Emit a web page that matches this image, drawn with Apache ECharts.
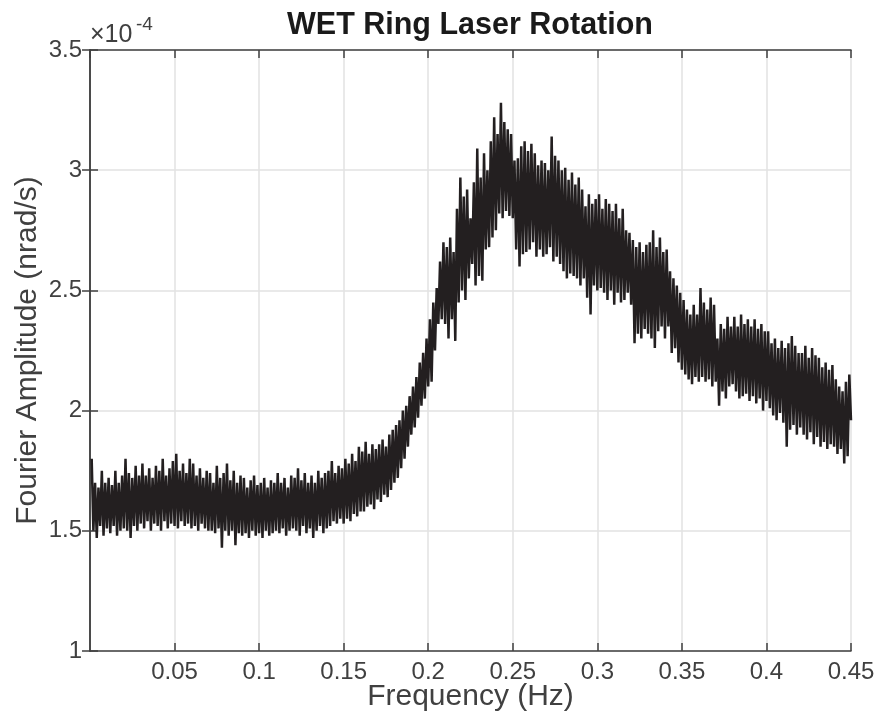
<!DOCTYPE html>
<html>
<head>
<meta charset="utf-8">
<title>WET Ring Laser Rotation</title>
<script src="https://cdn.jsdelivr.net/npm/echarts@6/dist/echarts.min.js"></script>
<style>
    html, body { margin: 0; padding: 0; background: #fff; }
    #chart { width: 883px; height: 717px; }
</style>
</head>
<body>
<div id="chart"></div>
<script>
    // frequency bins (Hz): first bin and spacing
    const freqStart = 0.001;
    const freqStep = 0.001;

    // Fourier amplitude, in units of 1e-4 nrad/s (one row = 0.01 Hz)
    const amplitude = [
        1.80, 1.50, 1.70, 1.47, 1.68, 1.52, 1.75, 1.48, 1.70, 1.51,
        1.72, 1.49, 1.69, 1.52, 1.75, 1.48, 1.70, 1.50, 1.73, 1.51,
        1.80, 1.50, 1.74, 1.47, 1.72, 1.52, 1.77, 1.50, 1.73, 1.53,
        1.78, 1.51, 1.73, 1.54, 1.76, 1.50, 1.72, 1.53, 1.77, 1.52,
        1.75, 1.50, 1.80, 1.54, 1.73, 1.51, 1.76, 1.53, 1.79, 1.52,
        1.82, 1.51, 1.75, 1.54, 1.78, 1.52, 1.74, 1.53, 1.80, 1.51,
        1.78, 1.52, 1.73, 1.50, 1.76, 1.53, 1.72, 1.51, 1.75, 1.50,
        1.74, 1.50, 1.70, 1.49, 1.77, 1.51, 1.72, 1.43, 1.74, 1.50,
        1.78, 1.48, 1.71, 1.50, 1.75, 1.44, 1.70, 1.49, 1.73, 1.48,
        1.72, 1.49, 1.68, 1.47, 1.71, 1.50, 1.73, 1.48, 1.69, 1.49,
        1.70, 1.47, 1.72, 1.50, 1.68, 1.48, 1.71, 1.49, 1.70, 1.50,
        1.74, 1.49, 1.70, 1.51, 1.72, 1.48, 1.68, 1.50, 1.73, 1.51,
        1.72, 1.50, 1.76, 1.48, 1.71, 1.52, 1.74, 1.49, 1.70, 1.51,
        1.73, 1.47, 1.70, 1.50, 1.75, 1.52, 1.72, 1.49, 1.74, 1.51,
        1.75, 1.52, 1.79, 1.54, 1.74, 1.53, 1.77, 1.55, 1.76, 1.53,
        1.80, 1.55, 1.78, 1.54, 1.82, 1.57, 1.79, 1.56, 1.85, 1.58,
        1.83, 1.58, 1.87, 1.60, 1.82, 1.61, 1.86, 1.59, 1.84, 1.63,
        1.86, 1.62, 1.88, 1.65, 1.85, 1.64, 1.90, 1.67, 1.92, 1.70,
        1.94, 1.72, 1.96, 1.76, 2.00, 1.80, 2.02, 1.85, 2.06, 1.90,
        2.10, 1.93, 2.14, 1.97, 2.20, 2.02, 2.24, 2.05, 2.30, 2.10,
        2.38, 2.12, 2.45, 2.25, 2.51, 2.36, 2.62, 2.38, 2.70, 2.36,
        2.68, 2.30, 2.72, 2.38, 2.66, 2.29, 2.84, 2.45, 2.97, 2.50,
        2.89, 2.46, 2.92, 2.55, 2.80, 2.61, 2.95, 2.52, 3.09, 2.56,
        2.97, 2.54, 3.07, 2.67, 3.00, 2.68, 3.12, 2.72, 3.22, 2.75,
        3.15, 2.82, 3.28, 2.80, 3.20, 2.83, 3.17, 2.81, 3.15, 2.80,
        3.04, 2.67, 3.05, 2.60, 3.10, 2.65, 3.12, 2.66, 3.08, 2.67,
        3.11, 2.70, 3.07, 2.64, 3.02, 2.67, 3.04, 2.64, 3.03, 2.65,
        3.00, 2.68, 3.14, 2.62, 3.06, 2.64, 3.04, 2.61, 3.00, 2.58,
        3.01, 2.55, 2.96, 2.57, 2.99, 2.56, 2.94, 2.55, 2.97, 2.52,
        2.92, 2.55, 2.85, 2.47, 2.90, 2.40, 2.86, 2.52, 2.88, 2.50,
        2.90, 2.51, 2.84, 2.49, 2.88, 2.46, 2.86, 2.50, 2.83, 2.44,
        2.86, 2.49, 2.80, 2.45, 2.84, 2.46, 2.75, 2.49, 2.74, 2.44,
        2.71, 2.28, 2.68, 2.32, 2.70, 2.30, 2.66, 2.34, 2.69, 2.32,
        2.70, 2.30, 2.75, 2.26, 2.68, 2.33, 2.72, 2.35, 2.66, 2.30,
        2.67, 2.35, 2.58, 2.24, 2.55, 2.26, 2.52, 2.20, 2.49, 2.17,
        2.46, 2.15, 2.42, 2.13, 2.40, 2.11, 2.44, 2.14, 2.40, 2.12,
        2.51, 2.14, 2.45, 2.12, 2.42, 2.13, 2.47, 2.10, 2.44, 2.12,
        2.30, 2.02, 2.36, 2.08, 2.34, 2.05, 2.39, 2.10, 2.35, 2.11,
        2.39, 2.08, 2.35, 2.05, 2.40, 2.06, 2.36, 2.07, 2.38, 2.04,
        2.35, 2.06, 2.38, 2.03, 2.34, 2.05, 2.36, 2.00, 2.33, 2.04,
        2.33, 2.01, 2.28, 1.98, 2.30, 1.96, 2.26, 1.99, 2.29, 1.95,
        2.26, 1.85, 2.28, 1.92, 2.31, 1.94, 2.27, 1.90, 2.24, 1.93,
        2.24, 1.90, 2.27, 1.88, 2.22, 1.91, 2.26, 1.86, 2.23, 1.89,
        2.22, 1.85, 2.18, 1.87, 2.20, 1.84, 2.17, 1.86, 2.19, 1.85,
        2.13, 1.82, 2.10, 1.84, 2.08, 1.78, 2.12, 1.81, 2.15, 1.96
    ];

    // axis ranges / ticks
    const xMin = 0, xMax = 0.45, xStep = 0.05;
    const yMin = 1, yMax = 3.5, yStep = 0.5;

    const fontFamily = '"Liberation Sans", Arial, Helvetica, sans-serif';
    const axisColor = '#404040';

    const points = amplitude.map(function (v, i) {
        return [freqStart + i * freqStep, v];
    });

    let myChart = echarts.init(document.getElementById('chart'));

    // plain frame axes (top / right) with inward ticks, MATLAB style box
    function frameAxis(pos) {
        return {
            type: 'value',
            position: pos,
            min: pos === 'top' ? xMin : yMin,
            max: pos === 'top' ? xMax : yMax,
            interval: pos === 'top' ? xStep : yStep,
            axisLine: { show: true, lineStyle: { color: axisColor, width: 1.5 } },
            axisTick: { show: true, inside: true, length: 8, lineStyle: { color: axisColor, width: 1.5 } },
            axisLabel: { show: false },
            splitLine: { show: false }
        };
    }

    myChart.setOption({
        animation: false,
        backgroundColor: '#fff',
        textStyle: { fontFamily: fontFamily },
        title: {
            text: 'WET Ring Laser Rotation',
            left: 465,
            textAlign: 'center',
            top: 5,
            textStyle: { fontFamily: fontFamily, fontSize: 30.5, fontWeight: 'bold', color: '#1a1a1a' }
        },
        grid: { left: 90, right: 32, top: 50, bottom: 66, outerBoundsMode: 'none' },
        xAxis: [
            {
                type: 'value',
                min: xMin,
                max: xMax,
                interval: xStep,
                name: 'Frequency (Hz)',
                nameLocation: 'middle',
                nameGap: 31,
                nameMoveOverlap: false,
                nameTextStyle: { fontSize: 30, color: '#404040', fontFamily: fontFamily },
                axisLine: { show: true, onZero: false, lineStyle: { color: axisColor, width: 1.5 } },
                axisTick: { show: true, inside: true, length: 8, lineStyle: { color: axisColor, width: 1.5 } },
                axisLabel: { showMinLabel: false, margin: 9, fontSize: 24, color: '#404040', fontFamily: fontFamily },
                splitLine: { show: true, lineStyle: { color: '#e2e2e2', width: 1.5 } }
            },
            frameAxis('top')
        ],
        yAxis: [
            {
                type: 'value',
                min: yMin,
                max: yMax,
                interval: yStep,
                name: 'Fourier Amplitude (nrad/s)',
                nameLocation: 'middle',
                nameGap: 47,
                nameMoveOverlap: false,
                nameTextStyle: { fontSize: 30, color: '#404040', fontFamily: fontFamily },
                axisLine: { show: true, onZero: false, lineStyle: { color: axisColor, width: 1.5 } },
                axisTick: { show: true, inside: true, length: 8, lineStyle: { color: axisColor, width: 1.5 } },
                axisLabel: { margin: 8, fontSize: 24, color: '#404040', fontFamily: fontFamily },
                splitLine: { show: true, lineStyle: { color: '#e2e2e2', width: 1.5 } }
            },
            frameAxis('right')
        ],
        graphic: [
            {
                type: 'text',
                x: 90,
                y: 35,
                style: { text: '\u00d710', font: '25px ' + fontFamily, fill: '#404040', textVerticalAlign: 'middle' }
            },
            {
                type: 'text',
                x: 136,
                y: 25,
                style: { text: '-4', font: '19px ' + fontFamily, fill: '#404040', textVerticalAlign: 'middle' }
            }
        ],
        series: [
            {
                type: 'line',
                xAxisIndex: 0,
                yAxisIndex: 0,
                data: points,
                showSymbol: false,
                color: '#231f20',
                lineStyle: { color: '#231f20', width: 2.5 }
            }
        ]
    });
</script>
</body>
</html>
